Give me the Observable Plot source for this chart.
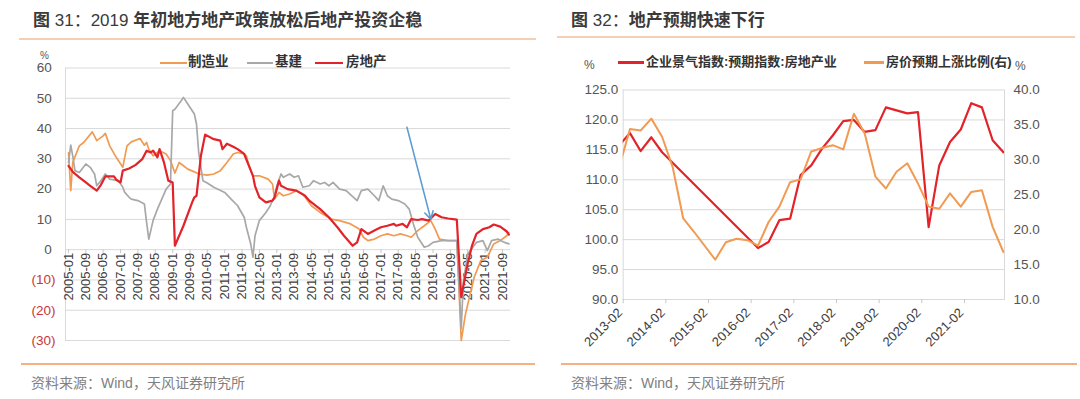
<!DOCTYPE html>
<html>
<head>
<meta charset="utf-8">
<script src="https://cdn.jsdelivr.net/npm/d3@7"></script>
<script src="https://cdn.jsdelivr.net/npm/@observablehq/plot@0.6"></script>
<style>
  html, body { margin: 0; padding: 0; background: #fff; }
  #root { position: relative; width: 1080px; height: 399px; overflow: hidden;
          font-family: "Liberation Sans", Arial, "Noto Sans CJK SC", sans-serif; }
  #root > svg { position: absolute; top: 0; }
  .abs { position: absolute; white-space: nowrap; }
</style>
</head>
<body>
<div id="root"></div>
<script>
// ---------------- DATA: chart 31 (monthly, cumulative YoY %) ----------------
const leftXTicks = ["2005-01","2005-09","2006-05","2007-01","2007-09","2008-05","2009-01","2009-09",
  "2010-05","2011-01","2011-09","2012-05","2013-01","2013-09","2014-05","2015-01","2015-09","2016-05",
  "2017-01","2017-09","2018-05","2019-01","2019-09","2020-05","2021-01","2021-09"];
const leftYTicks = [-30, -20, -10, 0, 10, 20, 30, 40, 50, 60];

const manufacturing = [["2005-01",32],["2005-02",19.5],["2005-03",28.8],["2005-06",34.3],["2005-08",35.4],
  ["2005-12",38.9],["2006-02",36],["2006-05",37.6],["2006-06",38.4],["2006-08",34.3],["2006-11",30.5],
  ["2007-02",27.2],["2007-04",34.3],["2007-06",35.6],["2007-10",36.7],["2007-12",34.5],["2008-01",35.4],
  ["2008-02",33.2],["2008-04",31],["2008-06",32.1],["2008-07",32.7],["2008-10",31.6],["2008-12",29.4],
  ["2009-02",25.3],["2009-04",28.8],["2009-06",27.7],["2009-08",26.6],["2009-11",25.7],["2010-01",25],
  ["2010-05",24.6],["2010-08",25],["2010-11",26.1],["2011-02",28.8],["2011-05",31.6],["2011-07",32.1],
  ["2011-10",31.6],["2011-11",31],["2011-12",28.3],["2012-02",24.4],["2012-05",24.4],["2012-09",23.3],
  ["2012-11",21.7],["2012-12",16.7],["2013-02",18.9],["2013-04",17.8],["2013-07",18.4],["2013-10",19.5],
  ["2014-01",18.4],["2014-05",14.5],["2014-09",12.3],["2015-02",10.1],["2015-06",9.6],["2015-11",8.5],
  ["2016-03",6.8],["2016-05",4.1],["2016-07",3],["2016-10",3.5],["2017-01",4.6],["2017-04",5.2],
  ["2017-07",4.6],["2017-10",5.2],["2018-01",4.6],["2018-03",4.1],["2018-06",6.3],["2018-09",7.9],
  ["2018-12",9.6],["2019-02",6.8],["2019-04",3.5],["2019-08",3],["2019-12",3],["2020-02",-30],
  ["2020-04",-21.2],["2020-08",-9.1],["2020-11",-3.6],["2021-02",-2.5],["2021-05",1.9],["2021-08",3],
  ["2021-11",4.6],["2021-12",5.7]];

const infrastructure = [["2005-01",28.8],["2005-02",34.5],["2005-03",31],["2005-04",26.1],["2005-06",25.5],
  ["2005-09",28.3],["2005-11",27.2],["2006-01",25],["2006-02",21.1],["2006-04",22.8],["2006-06",25],
  ["2006-08",23.3],["2006-12",22.8],["2007-02",20.6],["2007-03",18.9],["2007-05",17.3],["2007-06",16.7],
  ["2007-09",16.2],["2007-12",15.1],["2008-01",9],["2008-02",3.5],["2008-04",9.6],["2008-06",13.4],
  ["2008-08",16.7],["2008-10",20],["2008-12",21.7],["2009-01",45.9],["2009-02",46.4],["2009-05",49.2],
  ["2009-06",50.3],["2009-08",48.1],["2009-11",44.8],["2009-12",41.5],["2010-01",32.1],["2010-03",22.8],
  ["2010-05",22],["2010-08",20.6],["2011-01",18.9],["2011-04",16.7],["2011-07",14.5],["2011-10",10.7],
  ["2011-11",7.4],["2012-01",1.9],["2012-02",-2.5],["2012-03",4.6],["2012-05",9.6],["2012-08",12.3],
  ["2012-10",14.5],["2012-12",17.8],["2013-01",21.1],["2013-03",25],["2013-04",23.9],["2013-07",25],
  ["2013-09",23.9],["2013-11",24.4],["2014-01",20.6],["2014-04",21.1],["2014-06",22.8],["2014-09",21.7],
  ["2014-11",22.2],["2015-01",21.1],["2015-03",22.2],["2015-06",20],["2015-09",19.5],["2016-02",16.2],
  ["2016-04",19.5],["2016-07",20],["2016-10",17.8],["2016-12",16.2],["2017-02",21.1],["2017-04",17.8],
  ["2017-06",16.7],["2017-09",16.2],["2017-12",15.1],["2018-02",13.4],["2018-04",8.5],["2018-06",4.1],
  ["2018-09",0.8],["2018-11",1.3],["2019-01",2.4],["2019-05",3],["2019-09",3],["2019-12",3],
  ["2020-02",-26],["2020-03",-11],["2020-05",-1.4],["2020-09",2.4],["2020-12",3],["2021-02",-0.3],
  ["2021-04",3],["2021-07",3.5],["2021-10",2.4],["2021-12",1.9]];

const realEstate = [["2005-01",27.7],["2005-03",25.7],["2005-06",23.9],["2005-09",22.2],["2005-11",21.1],
  ["2006-02",19.5],["2006-04",21.4],["2006-06",24.2],["2006-10",24.2],["2006-11",23.1],["2007-01",22.2],
  ["2007-02",26.1],["2007-05",26.8],["2007-08",28],["2007-11",29.9],["2008-01",32.7],["2008-03",32.1],
  ["2008-04",32.7],["2008-06",30.5],["2008-07",33.2],["2008-09",28.8],["2008-11",22.8],["2009-01",22.2],
  ["2009-02",1.3],["2009-06",7.9],["2009-10",15.6],["2009-11",17.3],["2009-12",17.8],["2010-02",31],
  ["2010-04",38],["2010-08",36.5],["2010-11",36],["2010-12",33.2],["2011-02",35],["2011-05",34],
  ["2011-07",33.2],["2011-10",31.6],["2011-12",28],["2012-02",24.4],["2012-03",21],["2012-05",17.3],
  ["2012-08",15.6],["2012-11",16.2],["2012-12",17.3],["2013-02",22.8],["2013-03",21.1],["2013-06",20],
  ["2013-10",19.5],["2014-02",17.8],["2014-04",16.2],["2014-09",13.4],["2015-01",10.7],["2015-05",7.4],
  ["2015-08",4.6],["2015-12",1.3],["2016-02",2.4],["2016-04",6.8],["2016-07",5.2],["2016-10",6.3],
  ["2017-01",7.4],["2017-04",7.9],["2017-07",8.5],["2017-08",7.9],["2017-11",8.5],["2018-01",7.4],
  ["2018-03",10.1],["2018-06",9.8],["2018-08",10.1],["2018-11",9.6],["2019-02",11.8],["2019-05",10.7],
  ["2019-08",10.3],["2019-12",9.9],["2020-02",-15.7],["2020-05",-4.7],["2020-07",1.3],["2020-09",5.2],
  ["2020-12",6.8],["2021-03",7.4],["2021-05",8.3],["2021-08",7.6],["2021-11",6],["2021-12",5]];

const arrowFrom = ["2018-01", 40.4];
const arrowTo = ["2018-12", 10.1];

// ---------------- DATA: chart 32 (quarterly) ----------------
const rightXTicks = ["2013-02","2014-02","2015-02","2016-02","2017-02","2018-02","2019-02","2020-02","2021-02"];
const rightYTicksL = [90, 95, 100, 105, 110, 115, 120, 125];
const rightYTicksR = [10, 15, 20, 25, 30, 35, 40];

// 企业景气指数:预期指数:房地产业 (left axis)
const bizExpect = [["2012-12-31",115.8],["2013-03-31",117.8],["2013-06-30",114.8],["2013-09-30",117.1],
  ["2013-12-31",114.6],["2016-03-31",98.6],["2016-06-30",99.6],["2016-09-30",103.25],["2016-12-31",103.5],
  ["2017-03-31",110.8],["2017-06-30",112.4],["2017-09-30",115.2],["2017-12-31",117.4],["2018-03-31",119.8],
  ["2018-06-30",120.0],["2018-09-30",118.0],["2018-12-31",118.3],["2019-03-31",122.1],["2019-06-30",121.6],
  ["2019-09-30",121.1],["2019-12-31",121.3],["2020-03-31",102.1],["2020-06-30",112.4],["2020-09-30",116.3],
  ["2020-12-31",118.4],["2021-03-31",122.8],["2021-06-30",122.1],["2021-09-30",116.6],["2021-12-31",114.6]];

// 房价预期上涨比例 (right axis, %)
const priceUp = [["2012-12-31",29.1],["2013-03-31",34.4],["2013-06-30",34.2],["2013-09-30",35.9],
  ["2013-12-31",33.3],["2014-03-31",29.0],["2014-06-30",21.6],["2014-09-30",19.7],["2015-03-31",15.7],
  ["2015-06-30",18.2],["2015-09-30",18.7],["2015-12-31",18.5],["2016-03-31",17.7],["2016-06-30",21.1],
  ["2016-09-30",23.3],["2016-12-31",26.8],["2017-03-31",27.2],["2017-06-30",31.2],["2017-09-30",31.7],
  ["2017-12-31",32.1],["2018-03-31",31.5],["2018-06-30",36.6],["2018-09-30",33.8],["2018-12-31",27.6],
  ["2019-03-31",25.9],["2019-06-30",28.3],["2019-09-30",29.5],["2019-12-31",26.6],["2020-03-31",23.3],
  ["2020-06-30",23.0],["2020-09-30",25.2],["2020-12-31",23.3],["2021-03-31",25.4],["2021-06-30",25.65],
  ["2021-09-30",20.4],["2021-12-31",16.8]];

// ---------------- styling constants ----------------
const FONT = '"Liberation Sans", Arial, "Noto Sans CJK SC", sans-serif';
const C_ORANGE = "#f19a52", C_GRAY = "#a8a8a8", C_RED = "#e2232a", C_GRID = "#d9d9d9";
const C_NEG = "#c9363b", C_LABEL = "#555555", C_BLUE = "#5b9bd5";
const parseM = d3.utcParse("%Y-%m");
const parseD = d3.utcParse("%Y-%m-%d");
const MS_M = 30.4375 * 864e5;

const root = document.getElementById("root");

// ---------------- chart 31 ----------------
const t05 = Date.UTC(2005, 0, 1);
const leftPlot = Plot.plot({
  width: 540, height: 399,
  marginLeft: 65, marginRight: 30, marginTop: 67.5, marginBottom: 59,
  style: { background: "transparent", fontFamily: FONT, overflow: "visible" },
  x: { type: "utc", domain: [new Date(t05 - 1.4 * MS_M), new Date(t05 + 203.7 * MS_M)], axis: null },
  y: { domain: [-30, 60], axis: null },
  marks: [
    Plot.ruleY(leftYTicks, { stroke: C_GRID, strokeWidth: 1 }),
    Plot.frame({ anchor: "left", stroke: C_GRID }),
    Plot.ruleX(leftXTicks, { x: d => parseM(d), y1: 0, y2: -1.3, stroke: "#c8c8c8" }),
    Plot.text(leftYTicks, {
      y: d => d, frameAnchor: "left", textAnchor: "end", dx: -10,
      text: d => d < 0 ? `(${-d})` : `${d}\u00a0`,
      fill: d => d < 0 ? C_NEG : C_LABEL, fontSize: 13.5
    }),
    Plot.text(leftXTicks, {
      x: d => parseM(d), y: () => 0, text: d => d, rotate: -90, textAnchor: "end",
      lineAnchor: "middle", dy: 3, fill: "#404040", fontSize: 13
    }),
    Plot.line(manufacturing, { x: d => parseM(d[0]), y: d => d[1], stroke: C_ORANGE, strokeWidth: 1.7 }),
    Plot.line(infrastructure, { x: d => parseM(d[0]), y: d => d[1], stroke: C_GRAY, strokeWidth: 1.7 }),
    Plot.line(realEstate, { x: d => parseM(d[0]), y: d => d[1], stroke: C_RED, strokeWidth: 2.2 }),
    Plot.arrow([[arrowFrom, arrowTo]], {
      x1: d => parseM(d[0][0]), y1: d => d[0][1], x2: d => parseM(d[1][0]), y2: d => d[1][1],
      stroke: C_BLUE, strokeWidth: 1.6, headLength: 8
    })
  ]
});
leftPlot.style.left = "0px";
root.appendChild(leftPlot);

// ---------------- chart 32 ----------------
const toLeft = v => 90 + (v - 10) * (35 / 30);   // right-axis value -> left-axis units
const t13 = Date.UTC(2013, 1, 1);
const rightPlot = Plot.plot({
  width: 540, height: 399,
  marginLeft: 82.7, marginRight: 76, marginTop: 89.5, marginBottom: 100,
  style: { background: "transparent", fontFamily: FONT, overflow: "visible" },
  x: { type: "utc", domain: [new Date(t13), new Date(t13 + 107.25 * MS_M)], axis: null },
  y: { domain: [90, 125], axis: null },
  marks: [
    Plot.ruleY(rightYTicksL, { stroke: C_GRID, strokeWidth: 1 }),
    Plot.frame({ anchor: "left", stroke: C_GRID }),
    Plot.frame({ anchor: "right", stroke: C_GRID }),
    Plot.ruleX(rightXTicks, { x: d => parseM(d), y1: 90, y2: 89.3, stroke: "#c8c8c8" }),
    Plot.text(rightYTicksL, {
      y: d => d, frameAnchor: "left", textAnchor: "end", dx: -5,
      text: d => d.toFixed(1), fill: C_LABEL, fontSize: 13.5
    }),
    Plot.text(rightYTicksR, {
      y: d => toLeft(d), frameAnchor: "right", textAnchor: "start", dx: 9,
      text: d => d.toFixed(1), fill: C_LABEL, fontSize: 13.5
    }),
    Plot.text(rightXTicks, {
      x: d => parseM(d), frameAnchor: "bottom", text: d => d, rotate: -45, textAnchor: "end",
      lineAnchor: "middle", dy: 11, dx: -3, fill: "#404040", fontSize: 13
    }),
    Plot.line(bizExpect, { x: d => parseD(d[0]), y: d => d[1], stroke: C_RED, strokeWidth: 2.2, clip: true }),
    Plot.line(priceUp, { x: d => parseD(d[0]), y: d => toLeft(d[1]), stroke: C_ORANGE, strokeWidth: 2, clip: true })
  ]
});
rightPlot.style.left = "540px";
root.appendChild(rightPlot);

// ---------------- titles, legends, rules, sources ----------------
function addText(html, left, cy, size, extra = {}) {
  const d = document.createElement("div");
  d.className = "abs";
  d.innerHTML = html;
  d.style.left = left + "px";
  d.style.fontSize = size + "px";
  d.style.lineHeight = (size * 1.2) + "px";
  d.style.top = (cy - size * 0.6) + "px";
  Object.assign(d.style, extra);
  root.appendChild(d);
  return d;
}
function addRect(left, top, w, h, color) {
  const d = document.createElement("div");
  d.className = "abs";
  Object.assign(d.style, { left: left + "px", top: top + "px", width: w + "px", height: h + "px", background: color });
  root.appendChild(d);
}

// titles
addText('<b>图</b> 31：2019 <b>年初地方地产政策放松后地产投资企稳</b>', 33, 21, 17, { color: "#3a3a3a" });
addText('<b>图</b> 32：<b>地产预期快速下行</b>', 571, 21, 17, { color: "#3a3a3a" });
addRect(19, 38, 517, 1.5, "#f5cfb2");
addRect(557, 36, 518, 1.5, "#f5cfb2");

// left legend
addText('%', 40, 56, 10, { color: C_LABEL });
addRect(160, 61.5, 27, 2.5, C_ORANGE);
addText('<b>制造业</b>', 188, 62.5, 13.5, { color: "#333" });
addRect(247, 61.5, 26, 2.5, C_GRAY);
addText('<b>基建</b>', 275, 62.5, 13.5, { color: "#333" });
addRect(315, 61.5, 28, 2.5, C_RED);
addText('<b>房地产</b>', 346, 62.5, 13.5, { color: "#333" });

// right legend
addText('%', 584, 65, 12, { color: C_LABEL });
addRect(618, 61, 26, 2.5, C_RED);
addText('<b>企业景气指数:预期指数:房地产业</b>', 646, 62, 13, { color: "#333" });
addRect(864, 61, 20, 2.5, C_ORANGE);
addText('<b>房价预期上涨比例(右)</b>', 886, 62, 13, { color: "#333" });
addText('%', 1015, 66, 12, { color: C_LABEL });

// bottom rules & sources
addRect(21, 362.5, 514, 2, "#f4b183");
addRect(561, 362.5, 516, 2, "#f4b183");
addText('资料来源：Wind，天风证券研究所', 31, 383, 14, { color: "#808080" });
addText('资料来源：Wind，天风证券研究所', 571, 383, 14, { color: "#808080" });
</script>
</body>
</html>
